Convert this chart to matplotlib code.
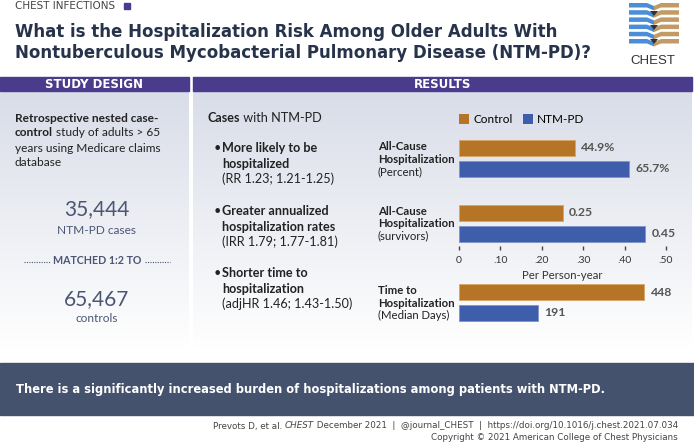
import numpy as np
import matplotlib.pyplot as plt
from matplotlib.colors import LinearSegmentedColormap
from matplotlib.patches import Rectangle, Polygon

W, H = 694, 443

# data
groups = ["Control", "NTM-PD"]
pct_vals = [44.9, 65.7]
pct_labels = ["44.9%", "65.7%"]
rate_vals = [0.25, 0.45]
rate_labels = ["0.25", "0.45"]
days_vals = [448, 191]
days_labels = ["448", "191"]
rate_ticks = [0, 0.1, 0.2, 0.3, 0.4, 0.5]
rate_ticklabels = ["0", ".10", ".20", ".30", ".40", ".50"]
cat_labels = [("All-Cause", "Hospitalization", "(Percent)"),
              ("All-Cause", "Hospitalization", "(survivors)"),
              ("Time to", "Hospitalization", "(Median Days)")]
n_cases = "35,444"
n_controls = "65,467"

c_control = "#b67426"
c_ntm = "#3e5eab"
purple = "#4a3b8d"
navy = "#27334a"
slate = "#4c5674"
banner = "#45526d"
body = "Lato"

fig = plt.figure(figsize=(W / 100, H / 100), dpi=100)
ax0 = fig.add_axes([0, 0, 1, 1])


def px_axes(x0, y0, x1, y1):
    return fig.add_axes([x0 / W, 1 - y1 / H, (x1 - x0) / W, (y1 - y0) / H])


def runs(x, y, parts, **kw):
    prev = ax0.text(x, y, parts[0][0], va="center", fontweight=parts[0][1], **kw)
    for s, w in parts[1:]:
        prev = ax0.annotate(s, xy=(1, 0), xycoords=prev, va="bottom", ha="left",
                            fontweight=w, **kw)
    return prev


def fit(t, width):
    fig.canvas.draw()
    w = t.get_window_extent().width
    t.set_fontsize(t.get_fontsize() * width / w)


# panel backgrounds
grad = LinearSegmentedColormap.from_list("g", ["#d9dde8", "#ffffff"])
g = np.linspace(0, 1, 200).reshape(-1, 1)
ax0.imshow(g, cmap=grad, extent=(0, 189, 350, 91), aspect="auto", zorder=0)
ax0.imshow(g, cmap=grad, extent=(193, 692, 350, 91), aspect="auto", zorder=0)
ax0.set_xlim(0, W)
ax0.set_ylim(H, 0)
ax0.axis("off")

# header
ax0.text(15, 6, "CHEST INFECTIONS", fontsize=7.5, color="#444", va="center",
         family="DejaVu Sans")
ax0.add_patch(Rectangle((124, 3), 6, 6, color=purple))
t1 = ax0.text(15, 32, "What is the Hospitalization Risk Among Older Adults With",
              fontsize=12, fontweight="bold", color=navy, va="center", family="DejaVu Sans")
t2 = ax0.text(15, 53, "Nontuberculous Mycobacterial Pulmonary Disease (NTM-PD)?",
              fontsize=12, fontweight="bold", color=navy, va="center", family="DejaVu Sans")
fit(t2, 573)
t1.set_fontsize(t2.get_fontsize())

# logo
for k in range(6):
    y0 = 3 + k * 7.2
    ax0.add_patch(Polygon([(629, y0), (647, y0), (654, y0 + 3), (654, y0 + 7.5), (647, y0 + 4.5), (629, y0 + 4.5)],
                          closed=True, color="#4a8ed8", lw=0))
    ax0.add_patch(Polygon([(679, y0), (661, y0), (654, y0 + 3), (654, y0 + 7.5), (661, y0 + 4.5), (679, y0 + 4.5)],
                          closed=True, color="#c29a64", lw=0))
for yc in [11, 25, 39]:
    ax0.add_patch(Polygon([(650, yc), (658, yc), (654, yc + 5)], closed=True, color="#333", lw=0))
ax0.text(653, 61, "CHEST", fontsize=9.5, color="#333", ha="center", va="center",
         family="Liberation Sans")

# section bars
ax0.add_patch(Rectangle((0, 77), 189, 14, color=purple))
ax0.add_patch(Rectangle((193, 77), 499, 14, color=purple))
ax0.text(94.5, 84.5, "STUDY DESIGN", color="white", fontsize=8.5, fontweight="bold",
         ha="center", va="center", family="DejaVu Sans")
ax0.text(443, 84.5, "RESULTS", color="white", fontsize=8.5, fontweight="bold",
         ha="center", va="center", family="DejaVu Sans")

# study design column
kw = dict(fontsize=8.6, color="#222", family=body)
ax0.text(15, 118, "Retrospective nested case-", fontweight="bold", va="center", **kw)
runs(15, 133, [("control", "bold"), (" study of adults > 65", "normal")], **kw)
ax0.text(15, 148, "years using Medicare claims", va="center", **kw)
ax0.text(15, 163, "database", va="center", **kw)

ax0.text(97, 209, n_cases, fontsize=15, color=slate,
         ha="center", va="center", family=body)
ax0.text(97, 230, "NTM-PD cases", fontsize=8.6, color=slate, ha="center", va="center",
         family=body)
ax0.text(97, 261, "MATCHED 1:2 TO", fontsize=7.7, fontweight="bold", color=slate,
         ha="center", va="center", family=body)
ax0.plot([24, 50], [262, 262], ls=(0, (1, 1.2)), color=slate, lw=0.8)
ax0.plot([145, 170], [262, 262], ls=(0, (1, 1.2)), color=slate, lw=0.8)
ax0.text(97, 299, n_controls, fontsize=15, color=slate,
         ha="center", va="center", family=body)
ax0.text(97, 318, "controls", fontsize=8.6, color=slate, ha="center", va="center",
         family=body)

# results text column
kw = dict(fontsize=9.1, color="#222", family=body)
runs(208, 117.5, [("Cases", "bold"), (" with NTM-PD", "normal")], **kw)
bullets = [(148, "More likely to be", "hospitalized", "(RR 1.23; 1.21-1.25)"),
           (211, "Greater annualized", "hospitalization rates", "(IRR 1.79; 1.77-1.81)"),
           (273, "Shorter time to", "hospitalization", "(adjHR 1.46; 1.43-1.50)")]
for y, l1, l2, l3 in bullets:
    ax0.text(214, y, "\u2022", va="center", **kw)
    ax0.text(222, y, l1, va="center", fontweight="bold", **kw)
    ax0.text(222, y + 16, l2, va="center", fontweight="bold", **kw)
    ax0.text(222, y + 31, l3, va="center", **kw)

# category labels
for y, (a, b, c) in zip([147, 211, 291], cat_labels):
    ax0.text(378, y, a, va="center", fontweight="bold", fontsize=8.2, color="#222", family=body)
    ax0.text(378, y + 12.3, b, va="center", fontweight="bold", fontsize=8.2, color="#222", family=body)
    ax0.text(378, y + 24.6, c, va="center", fontsize=8.2, color="#222", family=body)

# bar charts
panels = [((137.6, 178.9), pct_vals, pct_labels, 80),
          ((202.6, 243.9), rate_vals, rate_labels, 0.5),
          ((281.9, 323.2), days_vals, days_labels, 500)]
axes = []
for (y0, y1), vals, labels, xmax in panels:
    ax = px_axes(459, y0, 666, y1)
    ax.patch.set_alpha(0)
    bars = ax.barh([0, 1], vals, height=0.78, color=[c_control, c_ntm],
                   edgecolor=["#d9a566", "#7d95cc"], linewidth=0.6)
    for b, lab in zip(bars, labels):
        ax.annotate(lab, xy=(b.get_width(), b.get_y() + b.get_height() / 2),
                    xytext=(4.5, 0), textcoords="offset points", va="center",
                    fontsize=8.8, fontweight="bold", color="#555", family=body)
    ax.set_xlim(0, xmax)
    ax.set_ylim(1.5, -0.5)
    for s in ax.spines.values():
        s.set_visible(False)
    ax.set_yticks([])
    axes.append(ax)

axes[0].set_xticks([])
axes[2].set_xticks([])
ax = axes[1]
# small tick marks a couple of pixels below the bars
ax.vlines(rate_ticks, -0.05, -0.145, transform=ax.get_xaxis_transform(),
          color="#444", lw=1.0, clip_on=False)
ax.set_xticks(rate_ticks, rate_ticklabels, fontsize=7.5, color="#333", family=body)
ax.tick_params(axis="x", length=0, pad=9)
ax.set_xlabel("Per Person-year", fontsize=8.2, color="#333", family=body, labelpad=3)

axes[0].legend(bars, groups, ncol=2, loc="lower left", frameon=False,
               bbox_to_anchor=(459 / W, 1 - 125 / H), bbox_transform=fig.transFigure,
               borderaxespad=0, borderpad=0,
               handlelength=0.85, handleheight=0.85, handletextpad=0.35, columnspacing=0.9,
               prop=dict(family=body, size=8.5))
leg = axes[0].get_legend()
for h, c in zip(leg.legend_handles, [c_control, c_ntm]):
    h.set_color(c)
    h.set_linewidth(0)

# banner and footer
ax0.add_patch(Rectangle((0, 363), W, 52, color=banner))
tb = ax0.text(16, 389, "There is a significantly increased burden of hospitalizations among patients with NTM-PD.",
              color="white", fontsize=9, fontweight="bold", va="center", family="DejaVu Sans")
fit(tb, 584)

fkw = dict(fontsize=6.3, color="#444", family="DejaVu Sans")
f3 = ax0.text(678, 426, " December 2021  |  @journal_CHEST  |  https://doi.org/10.1016/j.chest.2021.07.034",
              ha="right", va="center", **fkw)
f2 = ax0.annotate("CHEST", xy=(0, 0), xycoords=f3, va="bottom", ha="right", style="italic", **fkw)
ax0.annotate("Prevots D, et al. ", xy=(0, 0), xycoords=f2, va="bottom", ha="right", **fkw)
ax0.text(678, 437.5, "Copyright \u00a9 2021 American College of Chest Physicians",
         ha="right", va="center", **fkw)

fig.savefig("out.png", dpi=100)
